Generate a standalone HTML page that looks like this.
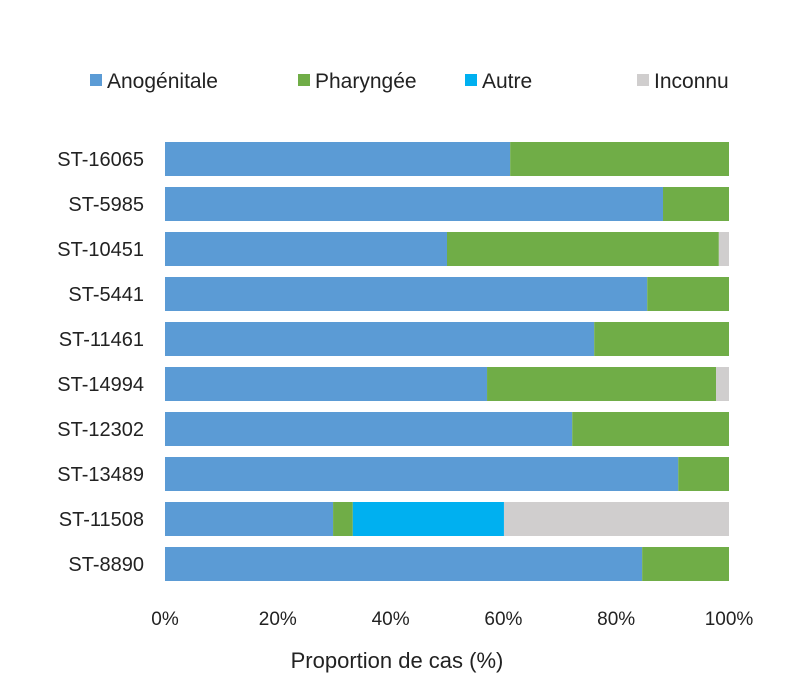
<!DOCTYPE html>
<html><head><meta charset="utf-8"><style>
body{margin:0;background:#fff;}
svg text{font-family:"Liberation Sans",sans-serif;fill:#222;}
</style></head><body>
<svg id="chart" width="800" height="694">
<g id="legend"></g>
<g id="bars"></g>
<g id="ylabels"></g>
<g id="xticks"></g>
<text x="397" y="668" font-size="22" text-anchor="middle">Proportion de cas (%)</text>
</svg>
<script>
const categories=["ST-16065","ST-5985","ST-10451","ST-5441","ST-11461","ST-14994","ST-12302","ST-13489","ST-11508","ST-8890"];
const anogenitale=[61.2,88.3,50,85.5,76.1,57.1,72.2,91,29.8,84.6];
const pharyngee=[38.8,11.7,48.2,14.5,23.9,40.6,27.8,9,3.5,15.4];
const autre=[0,0,0,0,0,0,0,0,26.8,0];
const inconnu=[0,0,1.8,0,0,2.3,0,0,39.9,0];
const seriesNames=["Anogénitale","Pharyngée","Autre","Inconnu"];
const tickLabels=["0%","20%","40%","60%","80%","100%"];
const tickValues=[0,20,40,60,80,100];
const colors=["#5b9bd5","#70ad47","#00b0f0","#d0cece"];
const NS="http://www.w3.org/2000/svg";
const x=v=>165+v/100*564;
const yTop=i=>142+i*45;
const series=[anogenitale,pharyngee,autre,inconnu];
const bars=document.getElementById('bars');
categories.forEach((c,i)=>{
  let acc=0;
  series.forEach((s,k)=>{
    const v=s[i]; if(v<=0)return;
    const r=document.createElementNS(NS,'rect');
    r.setAttribute('x',x(acc));r.setAttribute('width',x(acc+v)-x(acc));
    r.setAttribute('y',yTop(i));r.setAttribute('height',34);r.setAttribute('fill',colors[k]);
    
    
    bars.appendChild(r); acc+=v;
  });
  const t=document.createElementNS(NS,'text');
  t.setAttribute('x',144);t.setAttribute('y',yTop(i)+24);t.setAttribute('text-anchor','end');t.setAttribute('font-size','20');
  t.textContent=c;
  
  
  document.getElementById('ylabels').appendChild(t);
});
tickValues.forEach((v,i)=>{
  const t=document.createElementNS(NS,'text');
  t.setAttribute('x',x(v));t.setAttribute('y',625);t.setAttribute('text-anchor','middle');t.setAttribute('font-size','19');
  t.textContent=tickLabels[i];
  
  
  document.getElementById('xticks').appendChild(t);
});
const lx=[90,298,465,637];
seriesNames.forEach((n,k)=>{
  const g=document.createElementNS(NS,'g');
  
  
  const r=document.createElementNS(NS,'rect');
  r.setAttribute('x',lx[k]);r.setAttribute('y',74);r.setAttribute('width',12);r.setAttribute('height',12);r.setAttribute('fill',colors[k]);
  const t=document.createElementNS(NS,'text');
  t.setAttribute('x',lx[k]+17);t.setAttribute('y',88);t.setAttribute('font-size','21');t.textContent=n;
  g.appendChild(r);g.appendChild(t);
  document.getElementById('legend').appendChild(g);
});
</script>
</body></html>
